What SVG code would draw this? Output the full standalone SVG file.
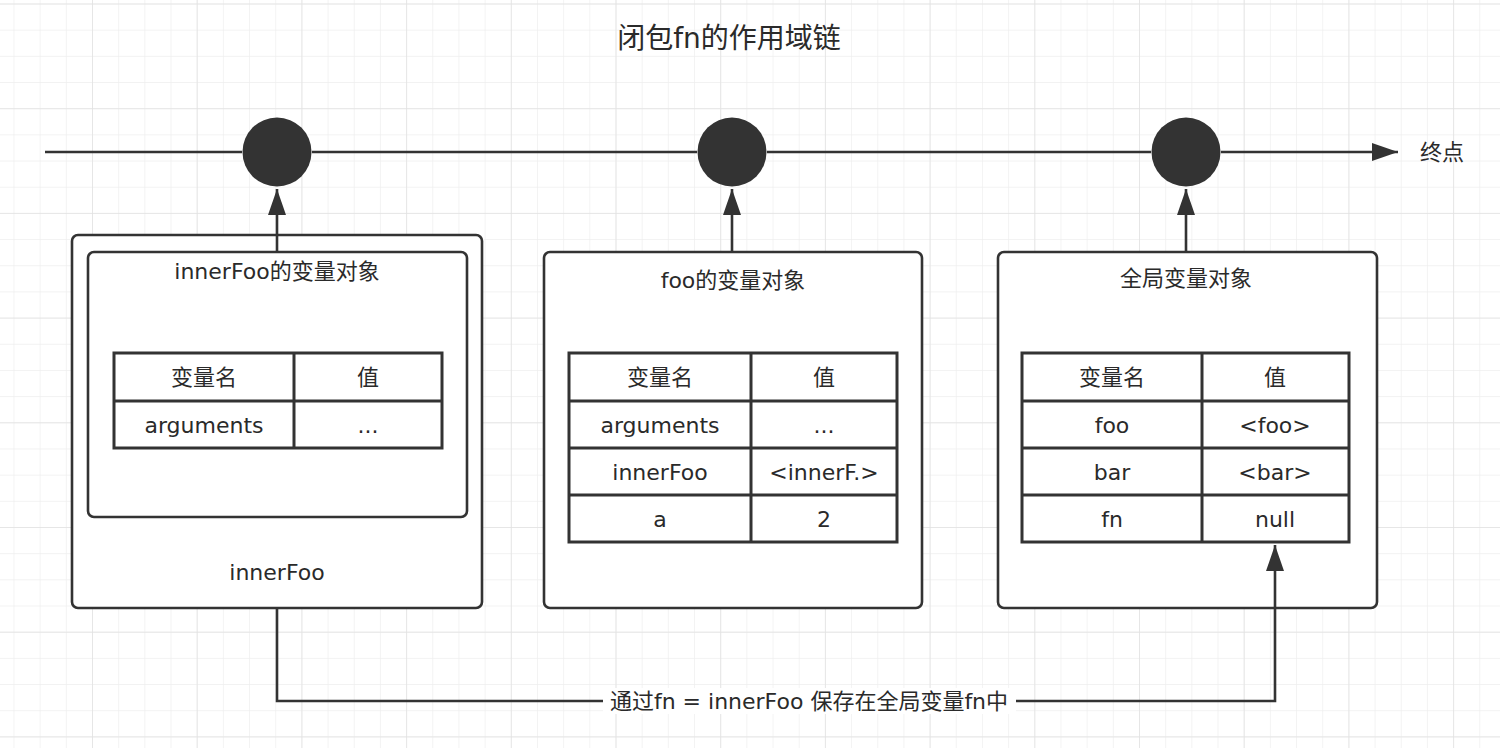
<svg xmlns="http://www.w3.org/2000/svg" width="1500" height="748" viewBox="0 0 1500 748">
<style>
.t{font-family:"DejaVu Sans","Noto Sans CJK SC",sans-serif;font-size:22px;fill:#2a2a2a;text-anchor:middle;dominant-baseline:central}
.box{fill:#ffffff;stroke:#333333;stroke-width:2.6}
.tbl{fill:#ffffff;stroke:#333333;stroke-width:3}
.ln{fill:none;stroke:#333333;stroke-width:2.6}
.dot{fill:#333333}
</style>
<defs>
<pattern id="minor" width="26.175" height="26.175" patternUnits="userSpaceOnUse" x="92" y="3.5">
<path d="M0,0 H26.175 M0,0 V26.175" fill="none" stroke="#eeeeee" stroke-width="1.3"/>
</pattern>
<pattern id="major" width="104.7" height="104.7" patternUnits="userSpaceOnUse" x="92" y="3.5">
<path d="M0,0 H104.7 M0,0 V104.7" fill="none" stroke="#e2e2e2" stroke-width="1.5"/>
</pattern>
<marker id="ah" markerUnits="userSpaceOnUse" markerWidth="26" markerHeight="18" refX="26" refY="9" orient="auto" viewBox="0 0 26 18">
<path d="M0,0 L26,9 L0,18 z" fill="#333333"/>
</marker>
</defs>
<rect width="1500" height="748" fill="#ffffff"/>
<rect width="1500" height="748" fill="url(#minor)"/>
<rect width="1500" height="748" fill="url(#major)"/>

<text class="t" x="729" y="38" style="font-size:28px">闭包fn的作用域链</text>

<g id="end-label">
<text class="t" x="1442" y="152">终点</text>
</g>

<g id="dot1"><circle class="dot" cx="277" cy="152" r="34.5"/></g>
<g id="dot2"><circle class="dot" cx="732" cy="152" r="34.5"/></g>
<g id="dot3"><circle class="dot" cx="1186" cy="152" r="34.5"/></g>

<g id="innerFoo">
<rect class="box" x="72" y="235" width="410" height="373" rx="6"/>
<text class="t" x="277" y="572">innerFoo</text>
</g>

<g id="innerFoo-vo">
<rect class="box" x="88" y="252" width="379" height="265" rx="6"/>
<text class="t" x="277" y="271">innerFoo的变量对象</text>
<rect class="tbl" x="114" y="353" width="328" height="95"/>
<line class="tbl" x1="294" y1="353" x2="294" y2="448"/>
<line class="tbl" x1="114" y1="401" x2="442" y2="401"/>
<text class="t" x="204" y="377">变量名</text>
<text class="t" x="368" y="377">值</text>
<text class="t" x="204" y="425">arguments</text>
<text class="t" x="368" y="425">...</text>
</g>

<g id="foo-vo">
<rect class="box" x="544" y="252" width="378" height="356" rx="6"/>
<text class="t" x="733" y="280">foo的变量对象</text>
<rect class="tbl" x="569" y="353" width="328" height="189"/>
<line class="tbl" x1="751" y1="353" x2="751" y2="542"/>
<line class="tbl" x1="569" y1="401" x2="897" y2="401"/>
<line class="tbl" x1="569" y1="448" x2="897" y2="448"/>
<line class="tbl" x1="569" y1="495" x2="897" y2="495"/>
<text class="t" x="660" y="377">变量名</text>
<text class="t" x="824" y="377">值</text>
<text class="t" x="660" y="425">arguments</text>
<text class="t" x="824" y="425">...</text>
<text class="t" x="660" y="472">innerFoo</text>
<text class="t" x="824" y="472">&lt;innerF.&gt;</text>
<text class="t" x="660" y="519">a</text>
<text class="t" x="824" y="519">2</text>
</g>

<g id="global-vo">
<rect class="box" x="998" y="252" width="379" height="356" rx="6"/>
<text class="t" x="1186" y="278">全局变量对象</text>
<rect class="tbl" x="1022" y="353" width="327" height="189"/>
<line class="tbl" x1="1202" y1="353" x2="1202" y2="542"/>
<line class="tbl" x1="1022" y1="401" x2="1349" y2="401"/>
<line class="tbl" x1="1022" y1="448" x2="1349" y2="448"/>
<line class="tbl" x1="1022" y1="495" x2="1349" y2="495"/>
<text class="t" x="1112" y="377">变量名</text>
<text class="t" x="1275" y="377">值</text>
<text class="t" x="1112" y="425">foo</text>
<text class="t" x="1275" y="425">&lt;foo&gt;</text>
<text class="t" x="1112" y="472">bar</text>
<text class="t" x="1275" y="472">&lt;bar&gt;</text>
<text class="t" x="1112" y="519">fn</text>
<text class="t" x="1275" y="519">null</text>
</g>

<g id="connectors">
<line class="ln" x1="45" y1="152" x2="242" y2="152"/>
<line class="ln" x1="312" y1="152" x2="697" y2="152"/>
<line class="ln" x1="767" y1="152" x2="1151" y2="152"/>
<line class="ln" x1="1221" y1="152" x2="1398" y2="152" marker-end="url(#ah)"/>
<line class="ln" x1="277" y1="252" x2="277" y2="189" marker-end="url(#ah)"/>
<line class="ln" x1="732" y1="252" x2="732" y2="189" marker-end="url(#ah)"/>
<line class="ln" x1="1186" y1="252" x2="1186" y2="189" marker-end="url(#ah)"/>
<path class="ln" d="M277,608 V701 H1275 V545" marker-end="url(#ah)"/>
<rect x="603" y="688" width="413" height="26" fill="#ffffff"/>
<text class="t" x="809" y="701">通过fn = innerFoo 保存在全局变量fn中</text>
</g>
</svg>
